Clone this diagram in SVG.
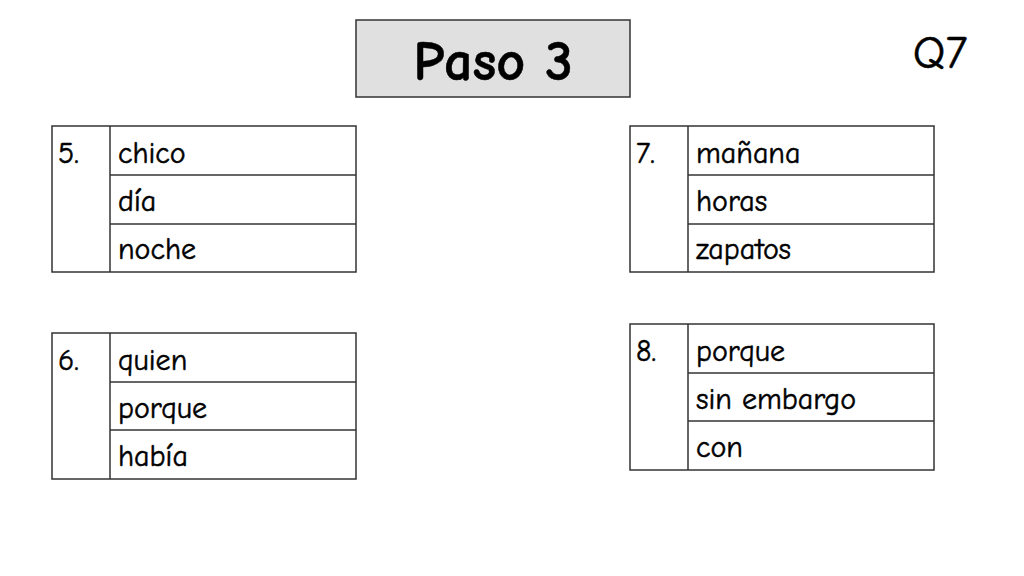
<svg xmlns="http://www.w3.org/2000/svg" width="1024" height="576" viewBox="0 0 1024 576">
<style>
.b{fill:#fff;stroke:#333;stroke-width:1.5}
.l{stroke:#333;stroke-width:1.5}
text{font-family:"Comic Neue","DejaVu Sans",sans-serif;font-size:30px;fill:#000;stroke:#000;stroke-width:0.5}
</style>
<rect width="1024" height="576" fill="#fff"/>
<g id="title"><rect x="356" y="20" width="274" height="77" fill="#e0e0e0" stroke="#333" stroke-width="1.5"/>
<text x="493" y="80" text-anchor="middle" style="font-size:56px;font-weight:bold">Paso 3</text></g>
<text x="940" y="68" text-anchor="middle" style="font-size:46px">Q7</text>
<g id="t5"><rect class="b" x="52" y="126" width="304" height="146"/>
<line class="l" x1="110" y1="126" x2="110" y2="272"/><line class="l" x1="110" y1="175" x2="356" y2="175"/><line class="l" x1="110" y1="224" x2="356" y2="224"/>
<text x="58" y="163">5.</text><text x="118" y="163">chico</text><text x="118" y="211">día</text><text x="118" y="259">noche</text></g>
<g id="t6"><rect class="b" x="52" y="333" width="304" height="146"/>
<line class="l" x1="110" y1="333" x2="110" y2="479"/><line class="l" x1="110" y1="382" x2="356" y2="382"/><line class="l" x1="110" y1="430" x2="356" y2="430"/>
<text x="58" y="370">6.</text><text x="118" y="370">quien</text><text x="118" y="418">porque</text><text x="118" y="466">había</text></g>
<g id="t7"><rect class="b" x="630" y="126" width="304" height="146"/>
<line class="l" x1="688" y1="126" x2="688" y2="272"/><line class="l" x1="688" y1="175" x2="934" y2="175"/><line class="l" x1="688" y1="224" x2="934" y2="224"/>
<text x="636" y="163">7.</text><text x="696" y="163">mañana</text><text x="696" y="211">horas</text><text x="696" y="259">zapatos</text></g>
<g id="t8"><rect class="b" x="630" y="324" width="304" height="146"/>
<line class="l" x1="688" y1="324" x2="688" y2="470"/><line class="l" x1="688" y1="373" x2="934" y2="373"/><line class="l" x1="688" y1="421" x2="934" y2="421"/>
<text x="636" y="361">8.</text><text x="696" y="361">porque</text><text x="696" y="409">sin embargo</text><text x="696" y="457">con</text></g>
</svg>
